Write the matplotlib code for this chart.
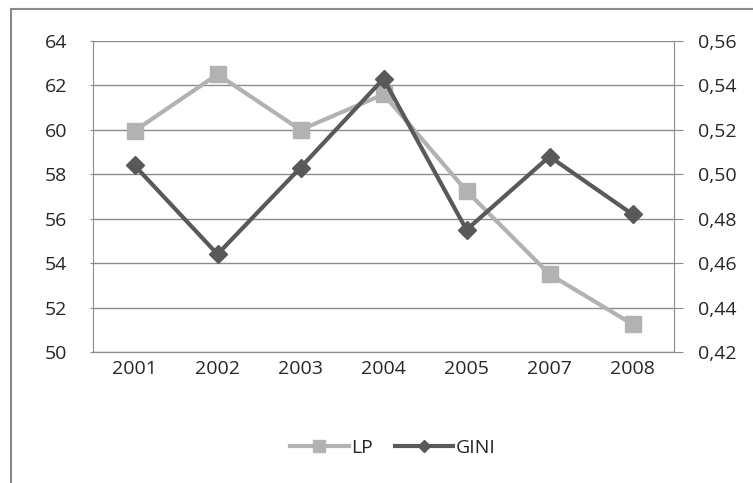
import matplotlib.pyplot as plt
import matplotlib.patches as mpatches
from matplotlib.ticker import FuncFormatter
import numpy as np

years = ['2001', '2002', '2003', '2004', '2005', '2007', '2008']
lp = [59.95, 62.5, 60.0, 61.6, 57.25, 53.5, 51.25]
gini = [0.504, 0.464, 0.503, 0.543, 0.475, 0.508, 0.482]

plt.rcParams['font.family'] = ['Open Sans', 'DejaVu Sans']
grid_c = '#8c8c8c'
text_c = '#262626'
fs = 14

fig = plt.figure(figsize=(7.53, 4.83), dpi=100)
ax = fig.add_axes([93/753, 1 - 352/483, (674 - 93)/753, (352 - 41)/483])
ax2 = ax.twinx()

x = np.arange(len(years))
ax.plot(x, lp, color='#b2b2b2', lw=3, marker='s', ms=12, label='LP', zorder=3)
ax2.plot(x, gini, color='#595959', lw=3, marker='D', ms=9, label='GINI', zorder=3)

ax.set_xlim(-0.5, len(years) - 0.5)
ax.set_ylim(50, 64)
ax.set_yticks(np.arange(50, 65, 2))
ax2.set_ylim(0.42, 0.56)
ax2.set_yticks(np.arange(0.42, 0.5601, 0.02))
ax2.yaxis.set_major_formatter(FuncFormatter(lambda v, p: f'{v:.2f}'.replace('.', ',')))
ax.set_xticks(x, years)

ax.grid(axis='y', color=grid_c, lw=1)
ax.set_axisbelow(True)
for a in (ax, ax2):
    a.spines['top'].set_visible(False)
    a.spines['left'].set_color(grid_c)
    a.spines['right'].set_color(grid_c)
    a.spines['bottom'].set_color(grid_c)
ax.spines['right'].set_visible(False)
ax2.spines['left'].set_visible(False)
ax.tick_params(axis='y', length=2.5, color=grid_c, pad=16, labelsize=fs, colors=text_c)
ax.tick_params(axis='y', color=grid_c)
ax.tick_params(axis='x', length=0, pad=6, labelsize=fs, colors=text_c)
ax2.tick_params(axis='y', length=6.5, pad=11, labelsize=fs, colors=text_c)
ax2.tick_params(axis='y', color=grid_c)

h1, l1 = ax.get_legend_handles_labels()
h2, l2 = ax2.get_legend_handles_labels()
fig.legend(h1 + h2, l1 + l2, loc='center', bbox_to_anchor=(393/753, 1 - 448/483),
           ncol=2, frameon=False, fontsize=fs, handlelength=3.0, columnspacing=1.1,
           handletextpad=0.15, markerscale=0.7, labelcolor=text_c)

fig.patches.append(mpatches.Rectangle((11/753, -0.01), 1.0, 1 - 9/483 + 0.01,
                                      transform=fig.transFigure, fill=False,
                                      edgecolor='#8a8a8a', lw=1.5))

plt.savefig('out.png', dpi=100)
